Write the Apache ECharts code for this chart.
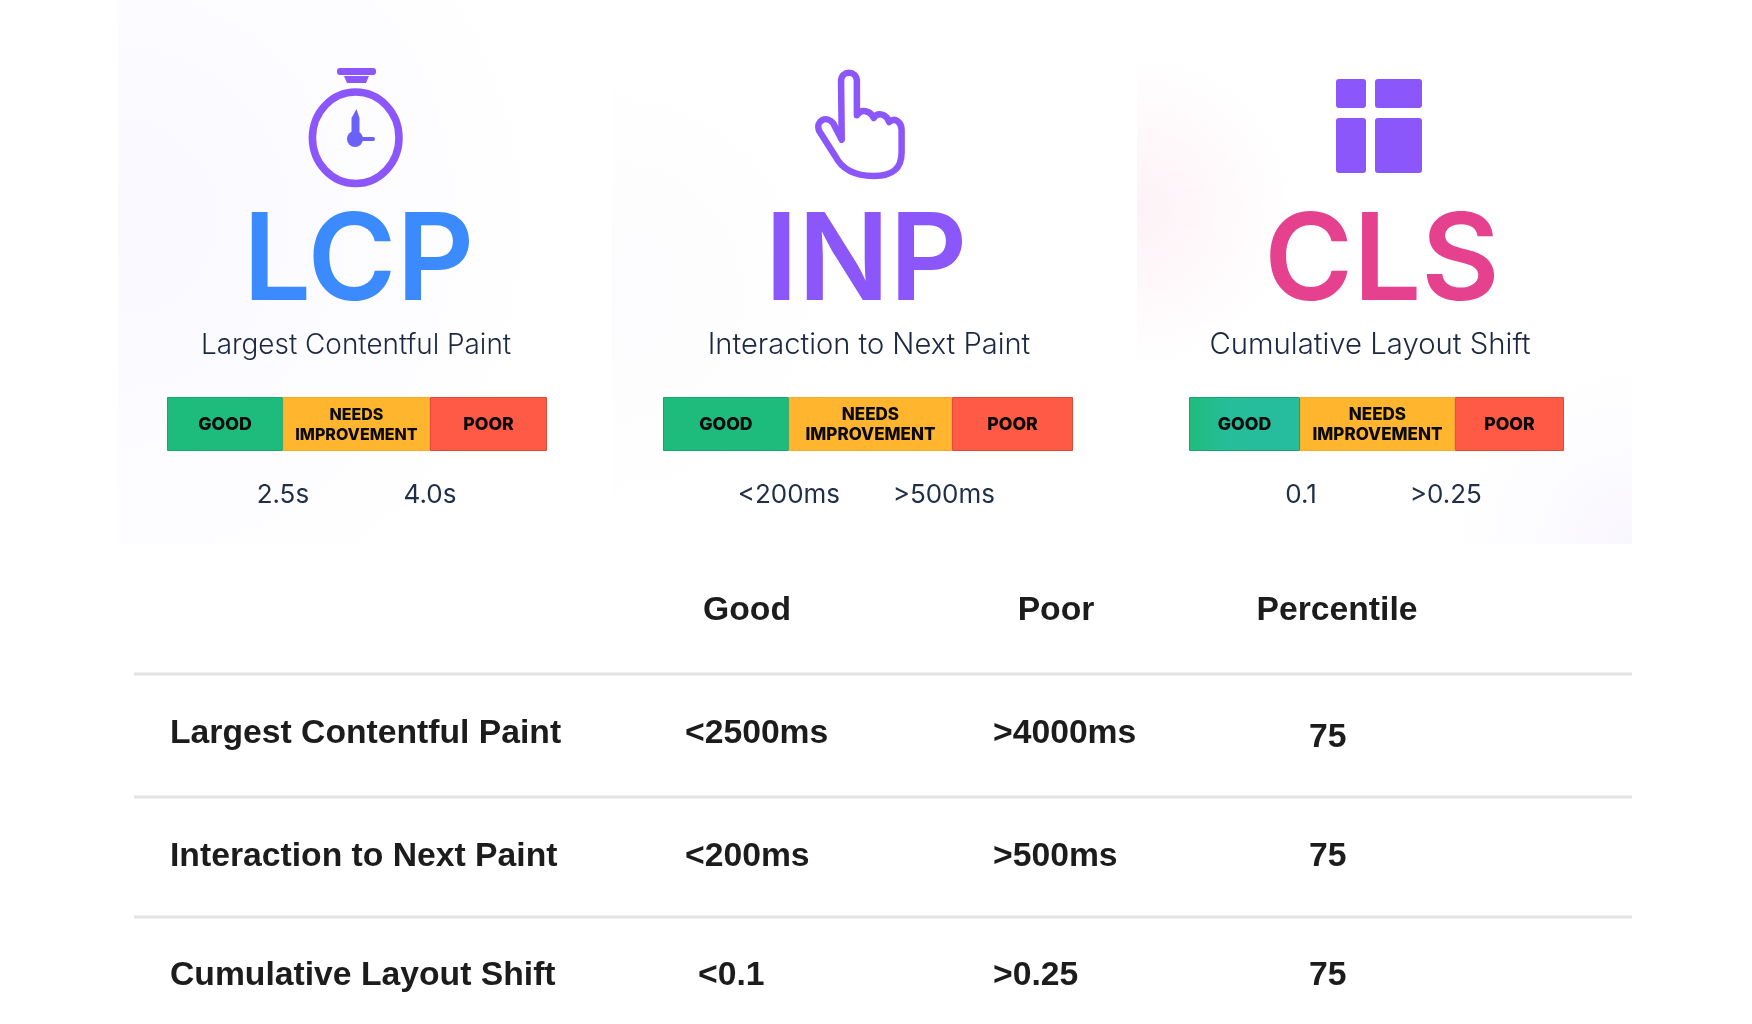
<!DOCTYPE html>
<html lang="en">
<head>
  <meta charset="UTF-8">
  <title>Core Web Vitals</title>
  <script src="https://cdn.jsdelivr.net/npm/echarts@6/dist/echarts.min.js"></script>
  <style>
    html, body { margin: 0; background: #fff; }
    #chart { width: 1752px; height: 1024px; }
  </style>
</head>
<body>
  <div id="chart"></div>

  <script>
    // band shares of each rating bar, in percent of the bar width
    const bandNames = ['GOOD', 'NEEDS\nIMPROVEMENT', 'POOR'];
    const lcpBands = [30.5, 38.7, 30.8];
    const inpBands = [30.7, 39.8, 29.5];
    const clsBands = [29.6, 41.3, 29.1];

    // threshold labels under the bars and where they sit on the 0-100 axis
    const lcpTicks = [30.5, 69.2];
    const inpTicks = [30.7, 68.5];
    const clsTicks = [29.9, 68.5];
    const lcpTickLabels = ['2.5s', '4.0s'];
    const inpTickLabels = ['<200ms', '>500ms'];
    const clsTickLabels = ['0.1', '>0.25'];

    const tableHead = ['Good', 'Poor', 'Percentile'];
    const rowNames = ['Largest Contentful Paint', 'Interaction to Next Paint', 'Cumulative Layout Shift'];
    const goodValues = ['<2500ms', '<200ms', '<0.1'];
    const poorValues = ['>4000ms', '>500ms', '>0.25'];
    const percentileValues = ['75', '75', '75'];

    const PURPLE = '#8b57fb';
    const INK = '#1b2840';
    const green = '#1dbb7c';
    const orange = '#ffb52e';
    const red = '#ff5a45';

    const panels = [
      { code: 'LCP', name: 'Largest Contentful Paint', color: '#3b8bff', bands: lcpBands, ticks: lcpTicks, tickLabels: lcpTickLabels,
        left: 167, width: 380, codeX: 358.5, nameX: 356, nameSize: 27.9, bandSize: 16 },
      { code: 'INP', name: 'Interaction to Next Paint', color: PURPLE, bands: inpBands, ticks: inpTicks, tickLabels: inpTickLabels,
        left: 663, width: 410, codeX: 866, nameX: 869, nameSize: 29.1, bandSize: 17 },
      { code: 'CLS', name: 'Cumulative Layout Shift', color: '#e5418f', bands: clsBands, ticks: clsTicks, tickLabels: clsTickLabels,
        left: 1189, width: 375, codeX: 1382, nameX: 1370, nameSize: 29.3, bandSize: 17 }
    ];

    const chart = echarts.init(document.getElementById('chart'));

    const grids = [], xAxes = [], yAxes = [], series = [];
    panels.forEach((p, i) => {
      grids.push({ left: p.left, width: p.width, top: 397, height: 54 });
      xAxes.push({
        type: 'value', gridIndex: i, min: 0, max: 100,
        axisLine: { show: false }, axisTick: { show: false }, splitLine: { show: false },
        axisLabel: {
          customValues: p.ticks,
          margin: 30,
          fontFamily: 'Inter', fontSize: 26, lineHeight: 28, color: '#1f2f48',
          formatter: v => p.tickLabels[p.ticks.indexOf(v)]
        }
      });
      yAxes.push({ type: 'category', gridIndex: i, data: [p.code], show: false });
      bandNames.forEach((band, b) => {
        let fill = [green, orange, red][b];
        // the CLS good band drifts towards teal
        if (p.code === 'CLS' && b === 0) {
          fill = new echarts.graphic.LinearGradient(0, 0, 1, 0, [
            { offset: 0, color: '#1fbc7c' }, { offset: 0.35, color: '#26bd9a' }, { offset: 1, color: '#26bd9e' }
          ]);
        }
        series.push({
          type: 'bar', xAxisIndex: i, yAxisIndex: i, stack: p.code, barWidth: '100%',
          silent: true,
          data: [p.bands[b]],
          itemStyle: { color: fill, borderColor: ['#18a56e', '#f5ab28', '#e2483a'][b], borderWidth: 1 },
          label: {
            show: true, position: 'inside', offset: [0, 1], formatter: band,
            fontFamily: 'Inter', fontWeight: 800, fontSize: b === 1 ? p.bandSize : 17.7, lineHeight: 19.5, color: '#0a0a0a'
          }
        });
      });
    });

    // pointing hand outline, drawn by a custom series since graphic has no path type
    series.push({
      type: 'custom', coordinateSystem: 'none', silent: true, data: [1],
      renderItem: () => ({
        type: 'path',
        shape: {
          pathData: 'M665 298 L663 125 C663 92 710 92 710 125 L710 226 C722 205 750 212 760 234 C772 215 798 222 806 246 C825 230 843 248 843 268 L843 335 C843 385 815 405 760 405 C700 405 665 385 645 345 L598 272 C585 240 622 225 640 250 Z',
          layout: 'cover', x: 818.3, y: 72.7, width: 83.3, height: 103.3
        },
        style: { fill: 'none', stroke: PURPLE, lineWidth: 6.5, lineJoin: 'round' }
      })
    });

    function label(text, x, y, opts) {
      return {
        type: 'text', x: x, y: y, silent: true,
        style: Object.assign({
          text: text, align: 'left', verticalAlign: 'middle', fill: '#1c1c1c',
          font: 'bold 33.7px "Liberation Sans"'
        }, opts)
      };
    }

    const wash = (x, y, width, height, gx, gy, r, color) => ({
      type: 'rect', silent: true, z: -10, shape: { x: x, y: y, width: width, height: height },
      style: { fill: new echarts.graphic.RadialGradient(gx, gy, r, [
        { offset: 0, color: color }, { offset: 1, color: '#ffffff' }
      ]) }
    });

    const graphics = [
      // faint panel washes behind the three metrics
      wash(118, 0, 495, 544, 0, 0.4, 0.9, '#f9f8ff'),
      wash(612, 40, 250, 504, 0, 0.5, 1, '#fcfcfe'),
      wash(1137, 45, 220, 330, 0, 0.5, 0.72, '#fdf2f7'),
      wash(1450, 340, 182, 204, 1, 1, 1, '#f9f7fe'),

      // stopwatch
      { type: 'rect', silent: true, shape: { x: 337, y: 68, width: 39, height: 7, r: 3 }, style: { fill: PURPLE } },
      { type: 'polygon', silent: true, shape: { points: [[344, 76], [369, 76], [366, 83], [347, 83]] }, style: { fill: PURPLE } },
      { type: 'ellipse', silent: true, shape: { cx: 355.7, cy: 137.8, rx: 43.3, ry: 45.7 }, style: { fill: 'none', stroke: PURPLE, lineWidth: 7.5 } },
      { type: 'polygon', silent: true, shape: { points: [[356.5, 109], [359.5, 118], [359.5, 138], [351.5, 138], [351.5, 118]] }, style: { fill: '#6a62f8' } },
      { type: 'rect', silent: true, shape: { x: 355, y: 137, width: 20, height: 4, r: 2 }, style: { fill: '#6a62f8' } },
      { type: 'circle', silent: true, shape: { cx: 355, cy: 139, r: 8 }, style: { fill: '#6a62f8' } },

      // layout grid
      { type: 'rect', silent: true, shape: { x: 1336, y: 79, width: 30, height: 29, r: 3 }, style: { fill: PURPLE } },
      { type: 'rect', silent: true, shape: { x: 1375, y: 79, width: 47, height: 29, r: 3 }, style: { fill: PURPLE } },
      { type: 'rect', silent: true, shape: { x: 1336, y: 118, width: 30, height: 55, r: 3 }, style: { fill: PURPLE } },
      { type: 'rect', silent: true, shape: { x: 1375, y: 118, width: 47, height: 55, r: 3 }, style: { fill: PURPLE } }
    ];

    panels.forEach(p => {
      graphics.push(label(p.code, p.codeX, 264, { align: 'center', fill: p.color, font: '600 120.5px Inter' }));
      graphics.push(label(p.name, p.nameX, 345.5, { align: 'center', fill: INK, font: '300 ' + p.nameSize + 'px Inter' }));
    });

    // table
    const headX = [747, 1056, 1337];
    tableHead.forEach((h, i) => graphics.push(label(h, headX[i], 611, { align: 'center' })));
    [674, 797, 917].forEach(y => graphics.push({
      type: 'line', silent: true, shape: { x1: 134, y1: y, x2: 1632, y2: y },
      style: { stroke: '#e3e3e3', lineWidth: 3 }
    }));
    const rowY = [734, 857, 976];
    const goodX = [685, 685, 698];
    rowNames.forEach((name, r) => {
      graphics.push(label(name, 170, rowY[r]));
      graphics.push(label(goodValues[r], goodX[r], rowY[r]));
      graphics.push(label(poorValues[r], 993, rowY[r]));
      graphics.push(label(percentileValues[r], 1309, r === 0 ? rowY[r] + 4 : rowY[r]));
    });

    chart.setOption({
      animation: false,
      backgroundColor: '#fff',
      grid: grids,
      xAxis: xAxes,
      yAxis: yAxes,
      series: series,
      graphic: { elements: graphics }
    });

    window.addEventListener('resize', () => chart.resize());
  </script>
</body>
</html>
